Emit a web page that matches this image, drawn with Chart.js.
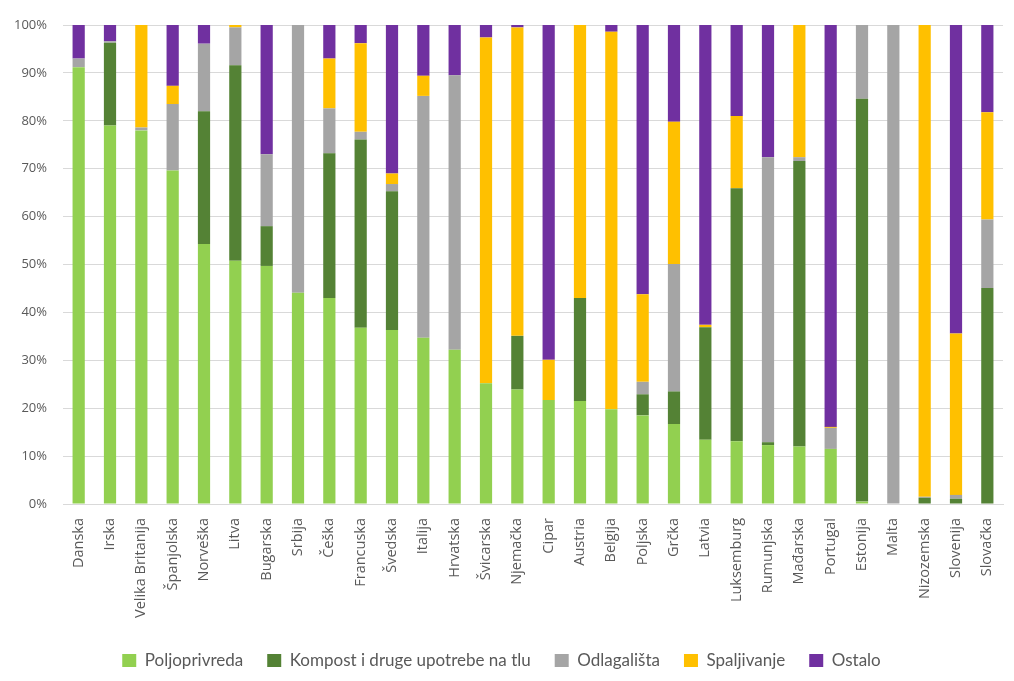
<!DOCTYPE html>
<html><head><meta charset="utf-8">
<script src="https://cdn.jsdelivr.net/npm/chart.js@4"></script>
<style>html,body{margin:0;padding:0;background:#fff}#wrap{width:1014px;height:681px}</style>
</head><body><div id="wrap"><canvas id="c" width="1014" height="681"></canvas></div>
<script>
const categories = ["Danska","Irska","Velika Britanija","Španjolska","Norveška","Litva","Bugarska","Srbija","Češka","Francuska","Švedska","Italija","Hrvatska","Švicarska","Njemačka","Cipar","Austria","Belgija","Poljska","Grčka","Latvia","Luksemburg","Rumunjska","Mađarska","Portugal","Estonija","Malta","Nizozemska","Slovenija","Slovačka"];
const poljoprivreda = [91.2,79,78,69.6,54.3,50.8,49.7,44.1,43,36.8,36.3,34.7,32.2,25.2,23.9,21.7,21.5,19.8,18.5,16.7,13.4,13.1,12.3,12,11.5,0.5,0,0,0,0];
const kompost = [0,17.3,0,0,27.7,40.8,8.3,0,30.2,39.3,29,0,0,0,11.2,0,21.5,0,4.4,6.8,23.5,52.8,0.6,59.6,0,84.1,0,1.3,1.1,45.1];
const odlagalista = [1.8,0.3,0.6,13.9,14.1,7.9,15,55.9,9.4,1.6,1.5,50.5,57.3,0,0,0,0,0,2.6,26.6,0,0,59.5,0.8,4.4,15.4,100,0.2,0.8,14.3];
const spaljivanje = [0,0,21.4,3.8,0,0.5,0,0,10.4,18.5,2.2,4.2,0,72.2,64.4,8.4,57,78.8,18.3,29.7,0.5,15.1,0,27.6,0.2,0,0,98.5,33.7,22.4];
const ostalo = [7,3.4,0,12.7,3.9,0,27,0,7,3.8,31,10.6,10.5,2.6,0.5,69.9,0,1.4,56.2,20.2,62.6,19,27.6,0,83.9,0,0,0,64.4,18.2];
const yTicks = [0,10,20,30,40,50,60,70,80,90,100];
const seriesNames = ["Poljoprivreda","Kompost i druge upotrebe na tlu","Odlagališta","Spaljivanje","Ostalo"];
const colors = ["#92d050","#548235","#a5a5a5","#ffc000","#7030a0"];
const seriesData = [poljoprivreda,kompost,odlagalista,spaljivanje,ostalo];

const txt = "#595959";
new Chart(document.getElementById('c'), {
  type: 'bar',
  data: {
    labels: categories,
    datasets: seriesNames.map((n,i)=>({label:n,data:seriesData[i],backgroundColor:colors[i],borderWidth:0,barPercentage:0.5,categoryPercentage:0.78}))
  },
  options: {
    responsive:false, animation:false,
    layout:{padding:{top:25,right:11,bottom:2,left:0}},
    plugins:{
      legend:{position:'bottom',labels:{boxWidth:14,boxHeight:13,padding:24,color:txt,font:{family:"Lato,'Open Sans',sans-serif",size:17}}},
      tooltip:{enabled:false}
    },
    scales:{
      x:{stacked:true,grid:{display:false},border:{color:'#d9d9d9'},
        ticks:{minRotation:90,maxRotation:90,autoSkip:false,padding:6,color:txt,font:{family:"'Open Sans',sans-serif",size:14.5}},
        afterFit:s=>{s.height=124;}},
      y:{stacked:true,min:0,max:100,
        afterBuildTicks:s=>{s.ticks=yTicks.map(v=>({value:v}));},
        grid:{color:'#d9d9d9',drawTicks:false},border:{display:false},
        ticks:{padding:16,color:txt,callback:v=>v+'%',font:{family:"'Open Sans',sans-serif",size:13}},
        afterFit:s=>{s.width=63;}}
    }
  }
});
</script></body></html>
